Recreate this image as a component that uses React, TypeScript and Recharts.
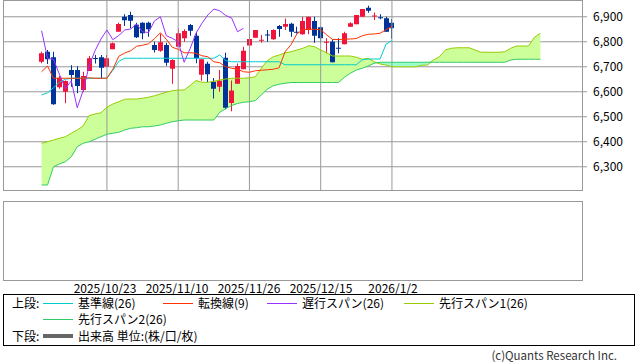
import { ComposedChart, Bar, Line, Area, XAxis, YAxis, CartesianGrid, ReferenceLine } from 'recharts'

// daily candles, index 0..59
const opens = [
  6720, 6760, 6738, 6618, 6600, 6687, 6687, 6607, 6683, 6735,
  6738, 6700, 6770, 6840, 6900, 6907, 6868, 6876, 6876, 6787,
  6764, 6787, 6692, 6780, 6814, 6867, 6824, 6668, 6712, 6640,
  6620, 6736, 6555, 6632, 6690, 6785, 6816, 6805, 6829, 6810,
  6863, 6860, 6872, 6840, 6830, 6847, 6883, 6858, 6796, 6800,
  6776, 6790, 6860, 6870, 6900, 6936, 6901, 6898, 6894, 6876,
]
const highs = [
  6760, 6767, 6760, 6663, 6645, 6706, 6702, 6680, 6743, 6747,
  6747, 6747, 6797, 6876, 6910, 6920, 6876, 6878, 6880, 6800,
  6833, 6796, 6730, 6853, 6850, 6871, 6840, 6730, 6720, 6655,
  6687, 6756, 6645, 6713, 6780, 6834, 6847, 6827, 6847, 6850,
  6867, 6893, 6876, 6860, 6900, 6900, 6900, 6862, 6814, 6810,
  6814, 6840, 6878, 6907, 6931, 6944, 6917, 6910, 6900, 6891,
]
const lows = [
  6714, 6711, 6548, 6612, 6554, 6620, 6594, 6600, 6683, 6713,
  6653, 6700, 6770, 6840, 6863, 6854, 6815, 6810, 6820, 6757,
  6760, 6704, 6632, 6780, 6800, 6824, 6714, 6644, 6638, 6573,
  6600, 6530, 6522, 6632, 6690, 6776, 6816, 6796, 6800, 6808,
  6820, 6847, 6820, 6833, 6828, 6830, 6796, 6796, 6754, 6718,
  6754, 6790, 6860, 6870, 6900, 6916, 6887, 6890, 6840, 6812,
]
const closes = [
  6754, 6730, 6550, 6656, 6643, 6667, 6623, 6663, 6734, 6731,
  6696, 6734, 6794, 6871, 6886, 6884, 6818, 6834, 6850, 6767,
  6798, 6716, 6727, 6834, 6843, 6844, 6734, 6730, 6670, 6612,
  6644, 6536, 6605, 6703, 6764, 6811, 6847, 6808, 6825, 6847,
  6851, 6871, 6840, 6837, 6883, 6900, 6824, 6814, 6800, 6718,
  6772, 6834, 6874, 6907, 6931, 6924, 6905, 6895, 6840, 6854,
]

// 転換線(9)
const tenkan = [
  6680, 6703, 6654, 6654, 6654, 6654, 6654, 6654, 6656, 6654,
  6654, 6654, 6690, 6742, 6755, 6764, 6782, 6786, 6792, 6812,
  6836, 6810, 6778, 6770, 6756, 6756, 6754, 6744, 6740, 6720,
  6716, 6700, 6694, 6690, 6680, 6678, 6684, 6686, 6688, 6690,
  6696, 6760, 6788, 6832, 6848, 6850, 6850, 6848, 6828, 6809,
  6809, 6810, 6811, 6813, 6824, 6830, 6831, 6834, 6848, 6862,
]
// 基準線(26)
const kijun = [
  6587, 6596, 6616, 6638, 6650, 6654, 6654, 6654, 6654, 6654,
  6654, 6654, 6686, 6722, 6734, 6734, 6734, 6734, 6734, 6734,
  6734, 6734, 6734, 6734, 6734, 6734, 6734, 6734, 6734, 6734,
  6747, 6725, 6720, 6720, 6720, 6720, 6720, 6720, 6720, 6720,
  6720, 6708, 6708, 6708, 6708, 6708, 6708, 6708, 6708, 6708,
  6708, 6708, 6708, 6708, 6728, 6731, 6731, 6731, 6790, 6805,
]
// 先行スパン1 / 2, index 0..84
const senkouA = [
  6394, 6400, 6407, 6414, 6420, 6434, 6447, 6463, 6505, 6511,
  6516, 6538, 6551, 6560, 6570, 6571, 6571, 6574, 6578, 6584,
  6591, 6598, 6604, 6607, 6607, 6625, 6645, 6638, 6638, 6642,
  6647, 6651, 6654, 6654, 6654, 6656, 6660, 6694, 6724, 6740,
  6747, 6756, 6760, 6767, 6774, 6784, 6780, 6767, 6756, 6743,
  6743, 6743, 6743, 6738, 6730, 6734, 6720, 6711, 6707, 6700,
  6700, 6700, 6700, 6700, 6706, 6707, 6727, 6740, 6767, 6774,
  6776, 6776, 6776, 6767, 6758, 6758, 6758, 6758, 6760, 6774,
  6783, 6783, 6783, 6818, 6834,
]
const senkouB = [
  6227, 6227, 6300, 6311, 6320, 6340, 6380, 6394, 6400, 6410,
  6420, 6430, 6434, 6438, 6447, 6454, 6456, 6460, 6460, 6463,
  6467, 6474, 6480, 6484, 6487, 6487, 6487, 6487, 6487, 6487,
  6518, 6532, 6545, 6553, 6558, 6560, 6565, 6587, 6610, 6624,
  6630, 6634, 6637, 6637, 6637, 6637, 6637, 6637, 6637, 6637,
  6637, 6658, 6674, 6687, 6694, 6703, 6714, 6718, 6718, 6718,
  6718, 6718, 6718, 6718, 6718, 6718, 6718, 6718, 6718, 6718,
  6718, 6718, 6718, 6718, 6718, 6718, 6718, 6718, 6718, 6727,
  6730, 6730, 6730, 6730, 6730,
]
// 遅行スパン: close drawn 25 bars back
const chikou = closes.slice(25)

const priceTicks = [6300, 6400, 6500, 6600, 6700, 6800, 6900]
const dateTicks = [11, 23, 35, 47, 59]
const dateLabels = ['2025/10/23', '2025/11/10', '2025/11/26', '2025/12/15', '2026/1/2']

const rows: any[] = []
for (let i = -6; i <= 90; i++) {
  const a = senkouA[i]
  const b = senkouB[i]
  const hasKumo = a !== undefined && b !== undefined
  rows.push({
    idx: i,
    candle: closes[i] !== undefined ? [lows[i], highs[i]] : null,
    open: opens[i],
    close: closes[i],
    tenkan: tenkan[i] ?? null,
    kijun: kijun[i] ?? null,
    chikou: chikou[i] ?? null,
    spanA: a ?? null,
    spanB: b ?? null,
    kumoUp: hasKumo ? [b, Math.max(a, b)] : null,
    kumoDown: hasKumo ? [a, Math.max(a, b)] : null,
  })
}

const Candle = (props: any) => {
  const { x, y, width, height, payload } = props
  if (!payload || !payload.candle) return null
  const [lo, hi] = payload.candle
  const top = Math.min(y, y + height)
  const h = Math.abs(height)
  const k = hi > lo ? h / (hi - lo) : 0
  const o = payload.open
  const c = payload.close
  const color = c >= o ? '#f0143c' : '#003399'
  const bodyTop = top + (hi - Math.max(o, c)) * k
  const bodyH = Math.max(1, Math.abs(o - c) * k)
  const cx = Math.round(x + width / 2)
  return (
    <g>
      <rect x={cx} y={top} width={1} height={h} fill={color} />
      <rect x={cx - 2} y={bodyTop} width={5} height={bodyH} fill={color} />
    </g>
  )
}

const legendItems = [
  { label: '基準線(26)', color: '#00cccc', x: 43, y: 303 },
  { label: '転換線(9)', color: '#ff3300', x: 163, y: 303 },
  { label: '遅行スパン(26)', color: '#9933ff', x: 267, y: 303 },
  { label: '先行スパン1(26)', color: '#99cc00', x: 404, y: 303 },
  { label: '先行スパン2(26)', color: '#33cc66', x: 43, y: 319 },
]

const font = '"Noto Sans CJK JP", "Noto Sans", sans-serif'

export default function App() {
  return (
    <div style={{ position: 'absolute', left: 0, top: 0, width: 638, height: 362, background: '#fff', fontFamily: font, color: '#000', overflow: 'hidden' }}>
      <div style={{ position: 'absolute', left: 0, top: 0 }}>
        <ComposedChart width={638} height={191} data={rows} margin={{ top: 0, right: 0, bottom: 0, left: 3 }}>
          <CartesianGrid vertical={false} stroke="#999" />
          <XAxis dataKey="idx" type="category" hide padding={{ left: 0, right: 3 }} />
          <YAxis
            orientation="right"
            width={56}
            domain={[6203, 6967]}
            ticks={priceTicks}
            allowDataOverflow
            axisLine={false}
            tickLine={{ stroke: '#999' }}
            tickSize={5}
            tickMargin={6}
            tick={{ fontSize: 12, fill: '#000' }}
            tickFormatter={v => v.toLocaleString('en-US')}
          />
          {dateTicks.map(v => (
            <ReferenceLine key={v} x={v} stroke="#999" />
          ))}
          <Area type="linear" dataKey="kumoUp" stroke="none" fill="#ccff99" fillOpacity={1} dot={false} activeDot={false} isAnimationActive={false} />
          <Area type="linear" dataKey="kumoDown" stroke="none" fill="#99ffcc" fillOpacity={1} dot={false} activeDot={false} isAnimationActive={false} />
          <Line type="linear" dataKey="spanA" stroke="#99cc00" strokeWidth={1} dot={false} activeDot={false} isAnimationActive={false} />
          <Line type="linear" dataKey="spanB" stroke="#33cc66" strokeWidth={1} dot={false} activeDot={false} isAnimationActive={false} />
          <Line type="linear" dataKey="kijun" stroke="#00cccc" strokeWidth={1} dot={false} activeDot={false} isAnimationActive={false} />
          <Line type="linear" dataKey="tenkan" stroke="#ff3300" strokeWidth={1} dot={false} activeDot={false} isAnimationActive={false} />
          <Line type="linear" dataKey="chikou" stroke="#9933ff" strokeWidth={1} dot={false} activeDot={false} isAnimationActive={false} />
          <Bar dataKey="candle" barSize={5} shape={<Candle />} isAnimationActive={false} />
        </ComposedChart>
      </div>
      <div style={{ position: 'absolute', left: 3, top: 0, width: 580, height: 191, border: '1px solid #999', boxSizing: 'border-box', pointerEvents: 'none' }} />

      <div style={{ position: 'absolute', left: 0, top: 201 }}>
        <ComposedChart width={638} height={100} data={rows} margin={{ top: 0, right: 56, bottom: 0, left: 3 }}>
          <XAxis
            dataKey="idx"
            type="category"
            ticks={dateTicks}
            interval={0}
            padding={{ left: 0, right: 3 }}
            height={21}
            axisLine={false}
            tickLine={false}
            tickSize={0}
            tickMargin={4}
            tick={{ fontSize: 12, fill: '#000' }}
            tickFormatter={v => dateLabels[dateTicks.indexOf(v)] ?? ''}
          />
          <YAxis hide domain={[0, 1]} />
          {dateTicks.map(v => (
            <ReferenceLine key={v} x={v} stroke="#999" />
          ))}
          <Line dataKey="volume" stroke="#666" dot={false} isAnimationActive={false} />
        </ComposedChart>
      </div>
      <div style={{ position: 'absolute', left: 3, top: 201, width: 580, height: 80, border: '1px solid #999', boxSizing: 'border-box', pointerEvents: 'none' }} />

      <div style={{ position: 'absolute', left: 3, top: 294, width: 632, height: 52, border: '1px solid #000', boxSizing: 'border-box' }} />
      <div style={{ position: 'absolute', left: 12, top: 295, fontSize: 12, lineHeight: '16px' }}>上段:</div>
      {legendItems.map(it => (
        <div key={it.label}>
          <div style={{ position: 'absolute', left: it.x, top: it.y, width: 30, height: 1, background: it.color }} />
          <div style={{ position: 'absolute', left: it.x + 35, top: it.y - 8, fontSize: 12, lineHeight: '16px', whiteSpace: 'nowrap' }}>{it.label}</div>
        </div>
      ))}
      <div style={{ position: 'absolute', left: 12, top: 328, fontSize: 12, lineHeight: '16px' }}>下段:</div>
      <div style={{ position: 'absolute', left: 43, top: 334, width: 30, height: 4, background: '#666' }} />
      <div style={{ position: 'absolute', left: 78, top: 328, fontSize: 12, lineHeight: '16px', whiteSpace: 'nowrap' }}>出来高 単位:(株/口/枚)</div>

      <div style={{ position: 'absolute', right: 21, top: 349, fontSize: 11.5, lineHeight: '12px', color: '#333', whiteSpace: 'nowrap' }}>(c)Quants Research Inc.</div>
    </div>
  )
}
